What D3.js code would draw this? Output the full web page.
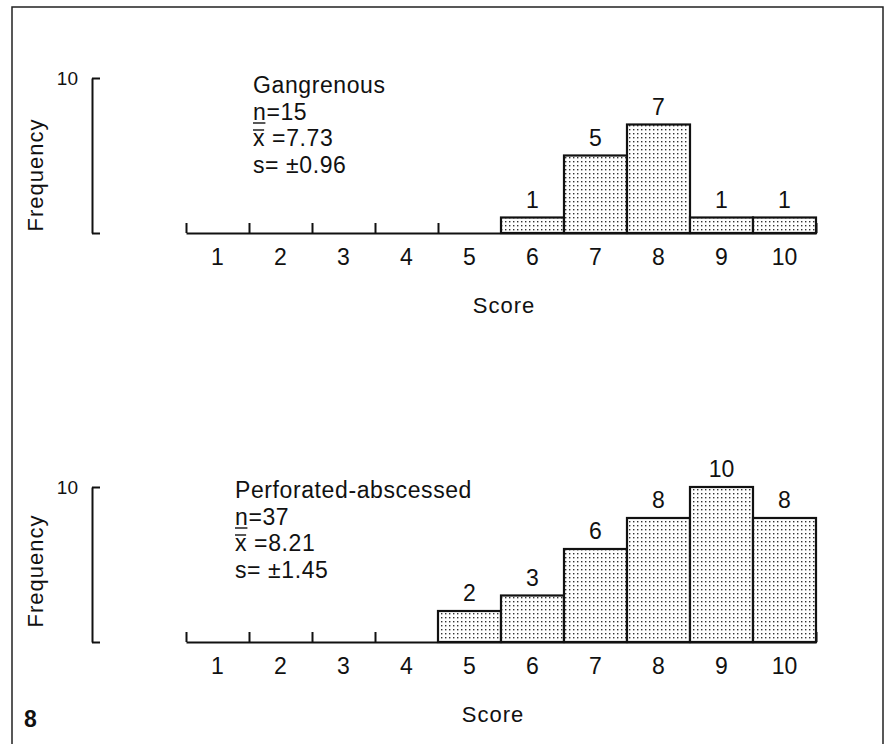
<!DOCTYPE html>
<html>
<head>
<meta charset="utf-8">
<script src="https://cdn.jsdelivr.net/npm/d3@7"></script>
<style>
  body { margin: 0; background: #fff; }
  svg text { font-family: "Liberation Sans", Arial, sans-serif; fill: #111; }
</style>
</head>
<body>
<svg id="chart" width="891" height="744"></svg>
<script>
// data
var scores = [1, 2, 3, 4, 5, 6, 7, 8, 9, 10];
var gangrenous = [0, 0, 0, 0, 0, 1, 5, 7, 1, 1];
var perforated = [0, 0, 0, 0, 2, 3, 6, 8, 10, 8];
var groupNames = ["Gangrenous", "Perforated-abscessed"];
var groupN = ["15", "37"];
var groupMean = ["7.73", "8.21"];
var groupSD = ["0.96", "1.45"];
var yTicks = [0, 10];

var svg = d3.select("#chart");

// dotted fill like the screened print
var defs = svg.append("defs");
var pat = defs.append("pattern")
    .attr("id", "dots")
    .attr("patternUnits", "userSpaceOnUse")
    .attr("width", 4)
    .attr("height", 4);
pat.append("rect").attr("width", 4).attr("height", 4).attr("fill", "#fff");
pat.append("rect").attr("x", 1).attr("y", 1).attr("width", 1.4).attr("height", 1.4).attr("fill", "#333");

// frame round the figure
svg.append("path")
    .attr("d", "M12,744V7H883V744")
    .attr("fill", "none")
    .attr("stroke", "#222")
    .attr("stroke-width", 1.5);

var x = d3.scaleLinear()
    .domain([0.5, 10.5])
    .range([186, 816]);

var panels = [
    { values: gangrenous, base: 233, statsX: 253, statsY: 93, freqY: 175, scoreX: 504 },
    { values: perforated, base: 642, statsX: 235, statsY: 498, freqY: 571, scoreX: 493 }
];

panels.forEach(function (p, i) {
    var y = d3.scaleLinear()
        .domain([0, 10])
        .range([p.base, p.base - 155]);

    var g = svg.append("g");

    // y bracket
    var yAxis = g.append("g")
        .attr("transform", "translate(92,0)")
        .call(d3.axisLeft(y)
            .tickValues(yTicks)
            .tickSizeInner(-8)
            .tickSizeOuter(0)
            .tickPadding(14)
            .tickFormat(function (d) { return d == 10 ? d : ""; }));
    yAxis.select(".domain").attr("stroke", "#111").attr("stroke-width", 2);
    yAxis.selectAll(".tick line").attr("stroke", "#111").attr("stroke-width", 2);
    yAxis.selectAll(".tick text")
        .attr("font-size", 19)
        .attr("font-family", null)
        .attr("fill", "#111");

    g.append("text")
        .attr("transform", "translate(43," + p.freqY + ") rotate(-90)")
        .attr("text-anchor", "middle")
        .attr("font-size", 22)
        .attr("letter-spacing", 1)
        .text("Frequency");

    // x axis: ticks at bin edges, labels at centres
    var edges = d3.range(0.5, 11, 1);
    var xAxis = g.append("g")
        .attr("transform", "translate(0," + p.base + ")")
        .call(d3.axisBottom(x)
            .tickValues(edges)
            .tickSizeInner(-10)
            .tickSizeOuter(0)
            .tickFormat(""));
    xAxis.select(".domain").attr("stroke", "#111").attr("stroke-width", 2);
    xAxis.selectAll(".tick line").attr("stroke", "#111").attr("stroke-width", 2);

    g.selectAll(".score")
        .data(scores)
        .enter().append("text")
        .attr("x", function (d) { return x(d); })
        .attr("y", p.base + 32)
        .attr("text-anchor", "middle")
        .attr("font-size", 23)
        .text(function (d) { return d; });

    var bins = scores.map(function (s, k) { return { score: s, value: p.values[k] }; })
        .filter(function (d) { return d.value > 0; });

    g.selectAll("rect.bar")
        .data(bins)
        .enter().append("rect")
        .attr("class", "bar")
        .attr("x", function (d) { return x(d.score - 0.5); })
        .attr("y", function (d) { return y(d.value); })
        .attr("width", x(1.5) - x(0.5))
        .attr("height", function (d) { return y(0) - y(d.value); })
        .attr("fill", "url(#dots)")
        .attr("stroke", "#111")
        .attr("stroke-width", 2.2);

    g.selectAll(".count")
        .data(bins)
        .enter().append("text")
        .attr("x", function (d) { return x(d.score); })
        .attr("y", function (d) { return y(d.value) - 10; })
        .attr("text-anchor", "middle")
        .attr("font-size", 23)
        .text(function (d) { return d.value; });

    // group label and statistics
    var st = g.append("g")
        .attr("font-size", 23)
        .attr("letter-spacing", 0.6);
    st.append("text")
        .attr("x", p.statsX).attr("y", p.statsY)
        .text(groupNames[i]);

    var t1 = st.append("text").attr("x", p.statsX).attr("y", p.statsY + 26.5);
    var nSpan = t1.append("tspan").text("n");
    t1.append("tspan").text("=" + groupN[i]);
    var nW = nSpan.node().getComputedTextLength();
    st.append("line")
        .attr("x1", p.statsX).attr("x2", p.statsX + nW - 1)
        .attr("y1", p.statsY + 26.5 + 3.5).attr("y2", p.statsY + 26.5 + 3.5)
        .attr("stroke", "#111").attr("stroke-width", 1.4);

    var t2 = st.append("text").attr("x", p.statsX).attr("y", p.statsY + 53);
    var xSpan = t2.append("tspan").text("x");
    t2.append("tspan").text(" =" + groupMean[i]);
    var xW = xSpan.node().getComputedTextLength();
    st.append("line")
        .attr("x1", p.statsX).attr("x2", p.statsX + xW - 1)
        .attr("y1", p.statsY + 53 - 16).attr("y2", p.statsY + 53 - 16)
        .attr("stroke", "#111").attr("stroke-width", 1.4);

    st.append("text")
        .attr("x", p.statsX).attr("y", p.statsY + 80)
        .text("s= \u00b1" + groupSD[i]);

    g.append("text")
        .attr("x", p.scoreX)
        .attr("y", p.base + 80)
        .attr("text-anchor", "middle")
        .attr("font-size", 22)
        .attr("letter-spacing", 1)
        .text("Score");
});

svg.append("text")
    .attr("x", 24)
    .attr("y", 727)
    .attr("font-size", 23)
    .attr("font-weight", "bold")
    .text("8");
</script>
</body>
</html>
